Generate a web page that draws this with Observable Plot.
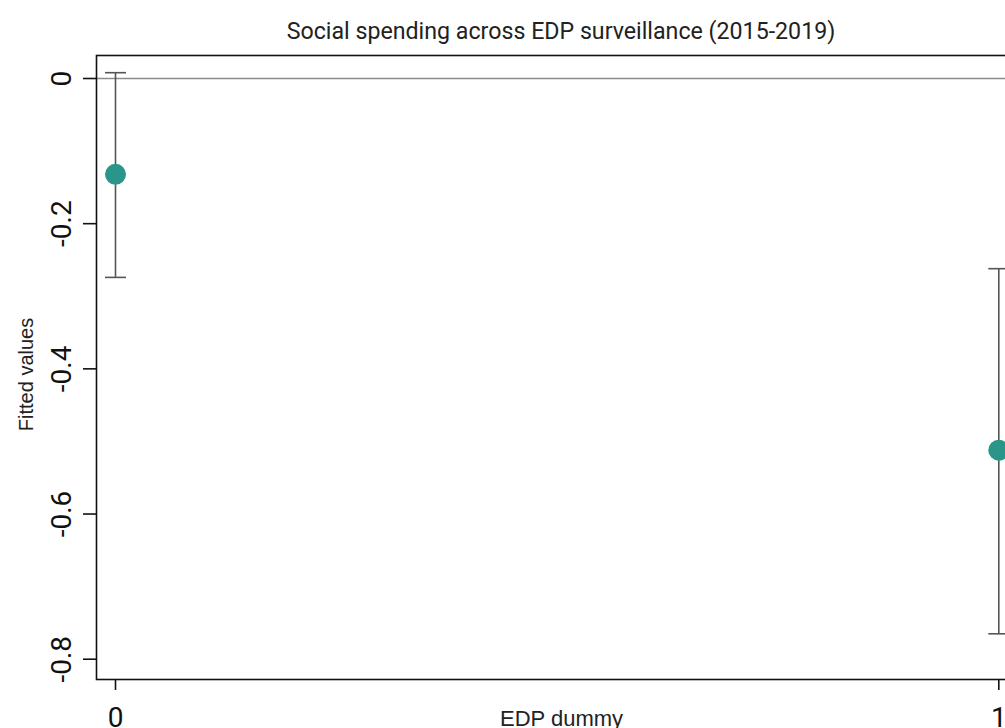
<!DOCTYPE html>
<html><head><meta charset="utf-8">
<script src="https://cdn.jsdelivr.net/npm/d3@7"></script>
<script src="https://cdn.jsdelivr.net/npm/@observablehq/plot@0.6"></script>
<style>
html,body{margin:0;padding:0;background:#fff;overflow:hidden;width:1005px;height:728px}
#wrap{position:relative;width:1005px;height:728px;overflow:hidden}
#title{position:absolute;left:0;top:20px;width:1122px;text-align:center;font-family:Roboto;font-size:23.2px;line-height:23px;color:#222}
#chart{position:absolute;left:0;top:0;width:1040px;height:728px}
#chart svg{max-width:none !important;width:1040px;height:728px}
</style></head><body>
<div id="wrap"><div id="chart"></div><div id="title">Social spending across EDP surveillance (2015-2019)</div></div>
<script>
const groups = [0, 1];
const fitted = [-0.132, -0.512];
const ciLow = [-0.274, -0.765];
const ciHigh = [0.008, -0.262];
const yTicks = [0, -0.2, -0.4, -0.6, -0.8];
const xTicks = [0, 1];
const xLabel = "EDP dummy";
const yLabel = "Fitted values";

const data = groups.map((g, i) => ({g, fit: fitted[i], lo: ciLow[i], hi: ciHigh[i]}));
const capSymbol = {draw(context, size) { const h = Math.sqrt(size / Math.PI); context.moveTo(-h, 0); context.lineTo(h, 0); }};
const W = 1040, H = 728;
const chart = Plot.plot({
  width: W, height: H,
  marginTop: 55, marginBottom: 49, marginLeft: 96, marginRight: W - 1026,
  x: {domain: [0, 1], range: [115, 998.3]},
  y: {domain: [-0.8, 0], range: [658.7, 78]},
  style: {fontFamily: "Roboto", background: "white", color: "#111", overflow: "visible"},
  marks: [
    Plot.ruleY([0], {stroke: "#8c8c8c", strokeWidth: 1.5}),
    Plot.ruleX(data, {x: "g", y1: "lo", y2: "hi", stroke: "#555", strokeWidth: 1.6}),
    Plot.dot(data, {x: "g", y: "lo", r: 10.5, symbol: capSymbol, stroke: "#555", strokeWidth: 1.6, fill: null}),
    Plot.dot(data, {x: "g", y: "hi", r: 10.5, symbol: capSymbol, stroke: "#555", strokeWidth: 1.6, fill: null}),
    Plot.dot(data, {x: "g", y: "fit", r: 10.5, fill: "#2a9689", stroke: null}),
    Plot.frame({stroke: "#111", strokeWidth: 1.6}),
    Plot.axisY(yTicks, {tickSize: 13, tickPadding: 13, tickRotate: -90, fontSize: 28, tickFormat: d => String(d), label: null, strokeWidth: 1.6}),
    Plot.axisX(xTicks, {tickSize: 11, tickPadding: 17, fontSize: 28, tickFormat: d => String(d), label: null, strokeWidth: 1.6}),
    Plot.text([xLabel], {frameAnchor: "bottom", dy: 46, lineAnchor: "bottom", textAnchor: "middle", fontSize: 22, fontFamily: "Liberation Sans", fill: "#222"}),
    Plot.text([yLabel], {frameAnchor: "left", rotate: -90, lineAnchor: "bottom", textAnchor: "middle", dx: -64, dy: 7, fontSize: 20, fontFamily: "Liberation Sans", fill: "#222"})
  ]
});
document.getElementById("chart").appendChild(chart);
</script>
</body></html>
